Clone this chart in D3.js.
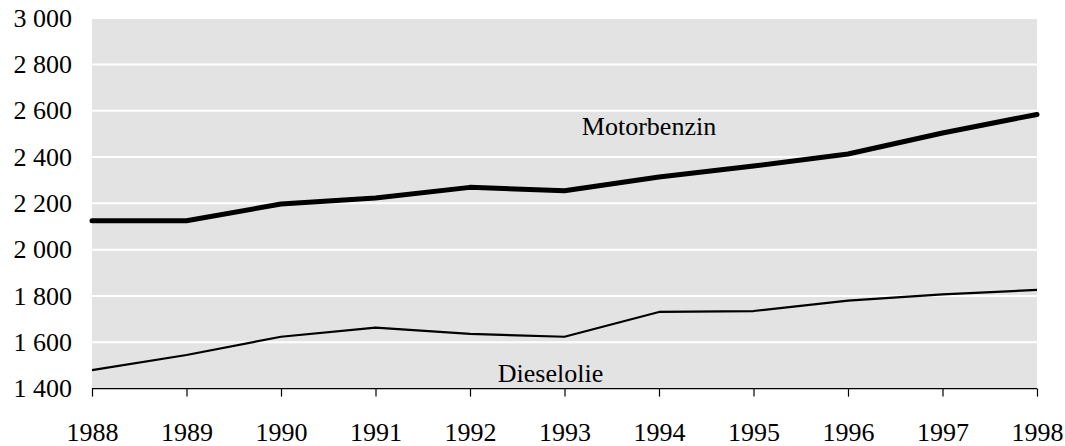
<!DOCTYPE html>
<html>
<head>
<meta charset="utf-8">
<script src="https://cdn.jsdelivr.net/npm/d3@7"></script>
<style>
  html, body { margin: 0; padding: 0; background: #fff; }
  svg { display: block; }
  text { font-family: "Liberation Serif", "Times New Roman", serif; fill: #000; }
</style>
</head>
<body>
<svg id="chart" width="1065" height="446"></svg>
<script>
const years = [1988, 1989, 1990, 1991, 1992, 1993, 1994, 1995, 1996, 1997, 1998];
const motorbenzin = [2125, 2125, 2197, 2223, 2269, 2254, 2314, 2361, 2413, 2504, 2584];
const dieselolie = [1480, 1545, 1624, 1663, 1636, 1624, 1731, 1735, 1780, 1807, 1826];
const yTicks = [1400, 1600, 1800, 2000, 2200, 2400, 2600, 2800, 3000];
const seriesNames = ["Motorbenzin", "Dieselolie"];

const svg = d3.select("#chart");
const plotLeft = 92, plotRight = 1037, plotTop = 18.1, plotBottom = 388.6;

const x = d3.scaleLinear().domain([1988, 1998]).range([plotLeft, plotRight]);
const y = d3.scaleLinear().domain([1400, 3000]).range([plotBottom, plotTop]);

// plot background
svg.append("rect")
  .attr("x", plotLeft).attr("y", y(3000) + 1)
  .attr("width", plotRight - plotLeft).attr("height", plotBottom - y(3000) - 1)
  .attr("fill", "#e3e3e3");

// gridlines
svg.append("g").selectAll("line")
  .data(yTicks.filter(d => d > 1400 && d < 3000))
  .join("line")
  .attr("x1", plotLeft).attr("x2", plotRight)
  .attr("y1", d => y(d)).attr("y2", d => y(d))
  .attr("stroke", "#fff").attr("stroke-width", 2);

// y tick labels
const fmt = d => d3.format(",")(d).replace(/,/g, " ");
svg.append("g").selectAll("text")
  .data(yTicks)
  .join("text")
  .attr("x", 72)
  .attr("y", d => y(d))
  .attr("dy", "0.33em")
  .attr("text-anchor", "end")
  .style("font-size", "26px")
  .text(fmt);

// x axis
const xAxis = d3.axisBottom(x)
  .tickValues(years)
  .tickFormat(d3.format("d"))
  .tickSize(8)
  .tickPadding(26);
const gx = svg.append("g")
  .attr("transform", `translate(0,${plotBottom})`)
  .call(xAxis);
gx.select(".domain").attr("stroke", "#000").attr("stroke-width", 1.2).attr("d", `M${plotLeft},0H${plotRight}`);
gx.selectAll(".tick line").attr("stroke", "#000").attr("stroke-width", 1.2);
gx.selectAll(".tick text")
  .style("font-size", "26px")
  .style("font-family", '"Liberation Serif", "Times New Roman", serif')
  .attr("fill", "#000");

// lines
const line = d3.line().x((d, i) => x(years[i])).y(d => y(d));
svg.append("path")
  .datum(motorbenzin)
  .attr("d", line)
  .attr("fill", "none")
  .attr("stroke", "#000")
  .attr("stroke-width", 5)
  .attr("stroke-linejoin", "round")
  .attr("stroke-linecap", "round");
svg.append("path")
  .datum(dieselolie)
  .attr("d", line)
  .attr("fill", "none")
  .attr("stroke", "#000")
  .attr("stroke-width", 2.2)
  .attr("stroke-linejoin", "round");

// series labels
svg.append("text")
  .attr("x", 649).attr("y", 135)
  .attr("text-anchor", "middle")
  .style("font-size", "26px")
  .text(seriesNames[0]);
svg.append("text")
  .attr("x", 550.5).attr("y", 382)
  .attr("text-anchor", "middle")
  .style("font-size", "26px")
  .text(seriesNames[1]);
</script>
</body>
</html>
